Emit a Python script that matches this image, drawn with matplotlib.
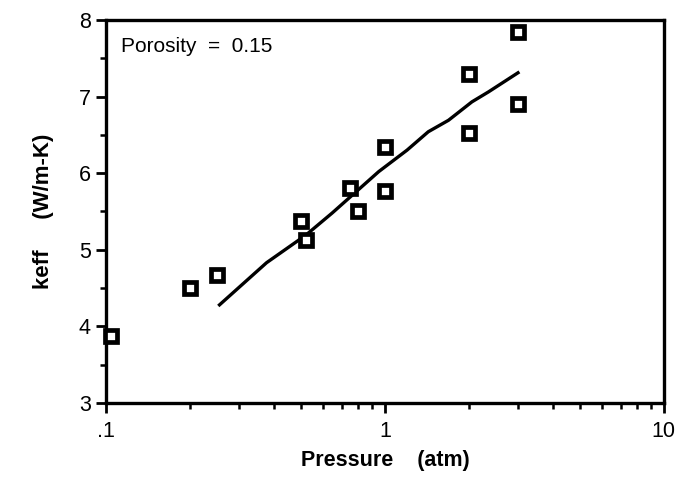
import matplotlib
matplotlib.use("Agg")
import matplotlib.pyplot as plt
from matplotlib.ticker import FixedLocator, FixedFormatter, NullFormatter

# datos medidos (puntos)
presion = [0.104, 0.2, 0.25, 0.5, 0.52, 0.75, 0.8, 1.0, 1.0, 2.0, 2.0, 3.0, 3.0]
keff = [3.87, 4.5, 4.67, 5.38, 5.13, 5.81, 5.5, 6.34, 5.77, 7.3, 6.52, 7.84, 6.9]

# curva del modelo
presion_modelo = [0.255, 0.376, 0.52, 0.647, 0.95, 1.2, 1.43, 1.69, 2.05, 2.35, 3.0]
keff_modelo = [4.28, 4.83, 5.19, 5.48, 6.02, 6.3, 6.54, 6.69, 6.93, 7.06, 7.31]

xticks = [0.1, 1, 10]
xticklabels = [".1", "1", "10"]
yticks = [3, 4, 5, 6, 7, 8]

plt.rcParams['font.family'] = ['Liberation Sans', 'DejaVu Sans']

fig = plt.figure(figsize=(6.85, 4.86), dpi=100)
ax = fig.add_axes([0.155, 0.171, 0.814, 0.788])

ax.plot(presion_modelo, keff_modelo, color='black', lw=2.4)
ax.plot(presion, keff, linestyle='none', marker='s', markersize=9,
        mfc='white', mec='black', mew=3.4, clip_on=False, zorder=5)

ax.set_xscale('log')
ax.set_xlim(0.1, 10)
ax.set_ylim(3, 8)

ax.xaxis.set_major_locator(FixedLocator(xticks))
ax.xaxis.set_major_formatter(FixedFormatter(xticklabels))
ax.xaxis.set_minor_formatter(NullFormatter())
ax.set_yticks(yticks)
ax.set_yticks([3.5, 4.5, 5.5, 6.5, 7.5], minor=True)

for s in ax.spines.values():
    s.set_linewidth(2.4)

ax.tick_params(axis='both', which='major', direction='out', length=7, width=2,
               labelsize=15.5, pad=4)
ax.tick_params(axis='both', which='minor', direction='out', length=4, width=1.8)
ax.tick_params(axis='x', which='major', pad=6)

ax.text(0.027, 0.93, "Porosity  =  0.15", transform=ax.transAxes,
        fontsize=15, va='center', ha='left')

ax.set_xlabel("Pressure    (atm)", fontsize=15.5, fontweight='bold', labelpad=6)
ax.set_ylabel("keff     (W/m-K)", fontsize=16, fontweight='bold', labelpad=18)

fig.savefig("out.png", dpi=100)
